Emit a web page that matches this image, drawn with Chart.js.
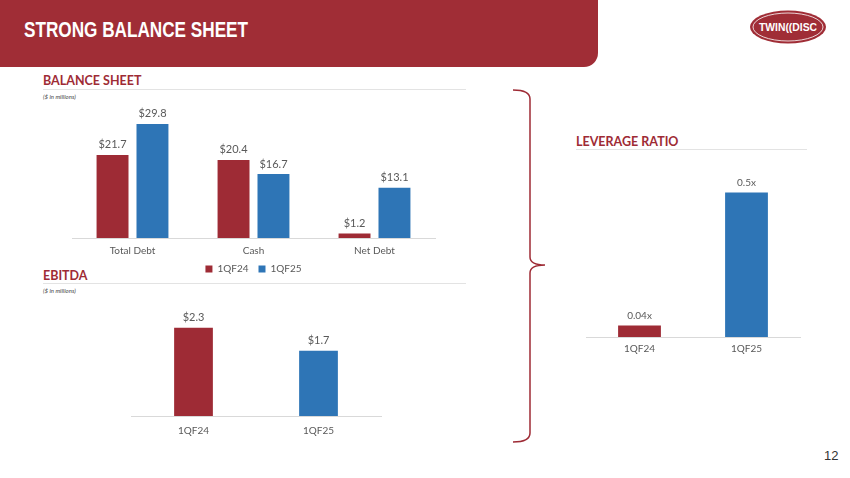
<!DOCTYPE html>
<html>
<head>
<meta charset="utf-8">
<script src="https://cdn.jsdelivr.net/npm/chart.js@4.4.1/dist/chart.umd.min.js"></script>
<style>
  body { margin: 0; width: 850px; height: 478px; background: #fff; position: relative; overflow: hidden; font-family: Lato, "Open Sans", sans-serif; }
  .abs { position: absolute; }
  #banner { left: 0; top: 0; width: 598px; height: 67px; background: #a02d36; border-bottom-right-radius: 14px; }
  #banner span { position: absolute; left: 24px; top: 17px; color: #fff; font: bold 22px "Liberation Sans", Arial, sans-serif; transform: scaleX(0.78); transform-origin: 0 0; white-space: nowrap; }
  .sec { color: #9e2b35; font-weight: bold; font-size: 12.5px; }
  .rule { height: 1px; background: #e3e3e3; }
  .note { font-size: 6px; font-style: italic; color: #444; }
  canvas { position: absolute; }
</style>
</head>
<body>
<div id="banner" class="abs"><span>STRONG BALANCE SHEET</span></div>

<svg class="abs" style="left:748px;top:8px" width="82" height="38">
  <ellipse cx="40" cy="19" rx="38" ry="16.5" fill="#a02d36"/>
  <ellipse cx="40" cy="19" rx="35" ry="14" fill="none" stroke="#fff" stroke-width="0.8"/>
  <text x="40" y="23" fill="#fff" font-family="Liberation Sans, sans-serif" font-weight="bold" font-size="11.5" text-anchor="middle" textLength="58" lengthAdjust="spacingAndGlyphs">TWIN((DISC</text>
</svg>

<div class="abs sec" style="left:43px;top:73px">BALANCE SHEET</div>
<div class="abs rule" style="left:43px;top:89px;width:423px"></div>
<div class="abs note" style="left:43px;top:93px">($ in millions)</div>

<div class="abs sec" style="left:43px;top:268px">EBITDA</div>
<div class="abs rule" style="left:43px;top:283px;width:423px"></div>
<div class="abs note" style="left:43px;top:287px">($ in millions)</div>

<div class="abs sec" style="left:576px;top:134px">LEVERAGE RATIO</div>
<div class="abs rule" style="left:576px;top:149px;width:231px"></div>

<svg class="abs" style="left:505px;top:85px" width="50" height="365">
  <path d="M8 5 Q25 5 25 14 L25 172 Q25 180 40 180 Q25 180 25 188 L25 348 Q25 357 8 357" fill="none" stroke="#9e2b35" stroke-width="1.5"/>
</svg>

<div class="abs" style="left:824px;top:448px;font:13px 'Liberation Sans', sans-serif;color:#333">12</div>

<canvas id="chartBalance" width="430" height="184" style="left:40px;top:100px"></canvas>
<canvas id="chartEbitda" width="270" height="149" style="left:120px;top:300px"></canvas>
<canvas id="chartLeverage" width="250" height="205" style="left:570px;top:160px"></canvas>

<script>
// Datos
const categoriasBalance = ['Total Debt', 'Cash', 'Net Debt'];
const balance1QF24 = [21.7, 20.4, 1.2];
const balance1QF25 = [29.8, 16.7, 13.1];

const periodos = ['1QF24', '1QF25'];
const ebitda = [2.3, 1.7];
const apalancamiento = [0.04, 0.5];

const ROJO = '#9e2b35';
const AZUL = '#2e75b6';
const GRIS = '#595959';

// Etiquetas encima de cada barra
const etiquetasBarras = {
    id: 'etiquetasBarras',
    afterDatasetsDraw(chart, args, opts) {
        const ctx = chart.ctx;
        ctx.save();
        ctx.font = (opts.size || 11) + 'px Lato, sans-serif';
        ctx.fillStyle = opts.color || GRIS;
        ctx.textAlign = 'center';
        ctx.textBaseline = 'middle';
        chart.data.datasets.forEach((ds, i) => {
            chart.getDatasetMeta(i).data.forEach((bar, j) => {
                ctx.fillText(opts.format(ds.data[j]), bar.x, bar.y - (opts.offset || 10));
            });
        });
        ctx.restore();
    }
};

function ejeX(pad) {
    return {
        grid: { display: false, drawTicks: false },
        border: { color: '#d9d9d9' },
        ticks: { color: GRIS, font: { family: 'Lato', size: 10 }, padding: pad }
    };
}

function opcionesBase(maxY, padding, tickPad, format, size) {
    return {
        responsive: false,
        animation: false,
        devicePixelRatio: 1,
        layout: { padding: padding },
        scales: {
            x: ejeX(tickPad),
            y: { display: false, min: 0, max: maxY }
        },
        plugins: {
            legend: { display: false },
            tooltip: { enabled: false },
            etiquetasBarras: { format: format, size: size }
        }
    };
}

// Balance general
const opBalance = opcionesBase(35, { left: 32, right: 35, top: 4, bottom: 0 }, 7, v => '$' + v.toFixed(1), 11);
// la leyenda queda más pegada a las etiquetas del eje
opBalance.scales.x.afterFit = eje => { eje.height -= 10; };
opBalance.plugins.legend = {
    display: true,
    position: 'bottom',
    labels: { boxWidth: 7, boxHeight: 7, color: GRIS, font: { family: 'Lato', size: 10 }, padding: 10 }
};
new Chart(document.getElementById('chartBalance'), {
    type: 'bar',
    data: {
        labels: categoriasBalance,
        datasets: [
            { label: '1QF24', data: balance1QF24, backgroundColor: ROJO, categoryPercentage: 0.66, barPercentage: 0.8 },
            { label: '1QF25', data: balance1QF25, backgroundColor: AZUL, categoryPercentage: 0.66, barPercentage: 0.8 }
        ]
    },
    options: opBalance,
    plugins: [etiquetasBarras]
});

// EBITDA
new Chart(document.getElementById('chartEbitda'), {
    type: 'bar',
    data: {
        labels: periodos,
        datasets: [
            { label: 'EBITDA', data: ebitda, backgroundColor: [ROJO, AZUL], categoryPercentage: 0.62, barPercentage: 0.5 }
        ]
    },
    options: opcionesBase(2.5, { left: 11, right: 9, top: 20, bottom: 3 }, 9, v => '$' + v.toFixed(1), 11),
    plugins: [etiquetasBarras]
});

// Apalancamiento
new Chart(document.getElementById('chartLeverage'), {
    type: 'bar',
    data: {
        labels: periodos,
        datasets: [
            { label: 'Leverage', data: apalancamiento, backgroundColor: [ROJO, AZUL], categoryPercentage: 0.8, barPercentage: 0.5 }
        ]
    },
    options: opcionesBase(0.55, { left: 16, right: 20, top: 18, bottom: 4 }, 6, v => v + 'x', 10),
    plugins: [etiquetasBarras]
});
</script>
</body>
</html>
